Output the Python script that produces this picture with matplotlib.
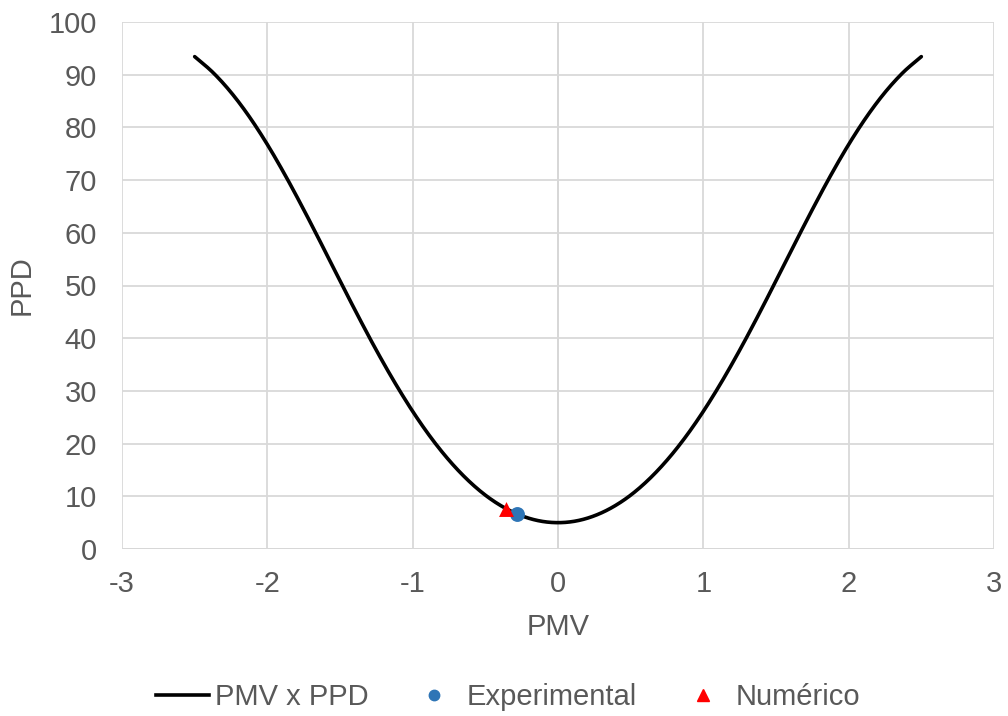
import matplotlib
matplotlib.use("Agg")
import numpy as np
import matplotlib.pyplot as plt
from matplotlib.lines import Line2D

plt.rcParams['font.family'] = ['Liberation Sans', 'DejaVu Sans']
plt.rcParams['axes.unicode_minus'] = False

pmv = [-2.5, -2.375, -2.25, -2.125, -2.0, -1.875, -1.75, -1.625, -1.5, -1.375,
       -1.25, -1.125, -1.0, -0.875, -0.75, -0.625, -0.5, -0.375, -0.25, -0.125,
       0.0, 0.125, 0.25, 0.375, 0.5, 0.625, 0.75, 0.875, 1.0, 1.125,
       1.25, 1.375, 1.5, 1.625, 1.75, 1.875, 2.0, 2.125, 2.25, 2.375, 2.5]
ppd = [93.43, 90.44, 86.65, 82.07, 76.76, 70.82, 64.41, 57.71, 50.90, 44.18,
       37.72, 31.67, 26.12, 21.16, 16.85, 13.20, 10.22, 7.93, 6.30, 5.32,
       5.00, 5.32, 6.30, 7.93, 10.22, 13.20, 16.85, 21.16, 26.12, 31.67,
       37.72, 44.18, 50.90, 57.71, 64.41, 70.82, 76.76, 82.07, 86.65, 90.44, 93.43]
exp_x = [-0.28]
exp_y = [6.7]
num_x = [-0.36]
num_y = [7.6]

x_ticks = [-3, -2, -1, 0, 1, 2, 3]
y_ticks = [0, 10, 20, 30, 40, 50, 60, 70, 80, 90, 100]

txt = '#595959'
grid = '#d9d9d9'
fs = 21

fig = plt.figure(figsize=(10.08, 7.16), dpi=100)
ax = fig.add_axes([122/1008, 1-549/716, (994-122)/1008, (549-22)/716])

ax.set_xlim(-3, 3)
ax.set_ylim(0, 100)
ax.set_xticks(x_ticks)
ax.set_yticks(y_ticks)
ax.grid(True, color=grid, linewidth=1.3, zorder=0)
for s in ax.spines.values():
    s.set_visible(False)
ax.axvline(0, color='#bfbfbf', linewidth=1.3, zorder=1)
ax.axhline(0, color='#bfbfbf', linewidth=1.3, zorder=1)
ax.tick_params(length=0, labelsize=fs, labelcolor=txt)
ax.tick_params(axis='y', pad=18)
ax.tick_params(axis='x', pad=15)

# Smoothed line through the points (Catmull-Rom rendering, like a spreadsheet "smoothed line")
px = np.array(pmv)
py = np.array(ppd)
ext_x = np.concatenate([[2 * px[0] - px[1]], px, [2 * px[-1] - px[-2]]])
ext_y = np.concatenate([[2 * py[0] - py[1]], py, [2 * py[-1] - py[-2]]])
t = np.linspace(0, 1, 20, endpoint=False)
sx, sy = [], []
for i in range(1, len(ext_x) - 2):
    x0, x1, x2, x3 = ext_x[i - 1:i + 3]
    y0, y1, y2, y3 = ext_y[i - 1:i + 3]
    for a, b, c, d, out in ((x0, x1, x2, x3, sx), (y0, y1, y2, y3, sy)):
        out.extend(0.5 * ((2 * b) + (-a + c) * t + (2 * a - 5 * b + 4 * c - d) * t**2
                          + (-a + 3 * b - 3 * c + d) * t**3))
sx.append(px[-1])
sy.append(py[-1])
ax.plot(sx, sy, color='black', linewidth=2.6, zorder=3, solid_capstyle='round')

ax.scatter(exp_x, exp_y, s=115, color='#2e75b6', marker='o', zorder=4, linewidths=0)
ax.scatter(num_x, num_y, s=115, color='#ff0000', marker='^', zorder=5, linewidths=0)

ax.set_xlabel('PMV', fontsize=fs, color=txt, labelpad=11)
ax.set_ylabel('PPD', fontsize=fs, color=txt, labelpad=9)

handles = [
    Line2D([], [], color='black', linewidth=2.6),
    Line2D([], [], color='#2e75b6', marker='o', linestyle='none', markersize=7.5),
    Line2D([], [], color='#ff0000', marker='^', linestyle='none', markersize=9),
]
leg = fig.legend(handles, ['PMV x PPD', 'Experimental', 'Numérico'],
                 loc='center', bbox_to_anchor=(508/1008, 1-697/716), ncol=3,
                 frameon=False, fontsize=fs, handlelength=1.8,
                 handletextpad=0.22, columnspacing=1.35)
for tx in leg.get_texts():
    tx.set_color(txt)

fig.savefig('out.png', dpi=100)
